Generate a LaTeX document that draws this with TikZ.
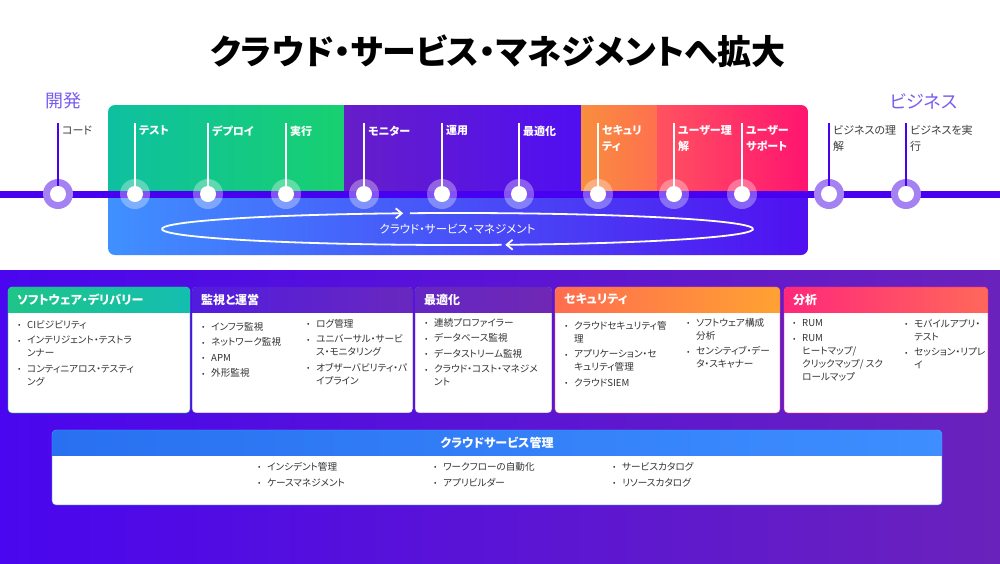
\documentclass[tikz,border=0pt]{standalone}
\usepackage{fontspec}
\usepackage{graphicx}
\setmainfont{Noto Sans CJK JP}[RawFeature=+palt]
\usetikzlibrary{arrows.meta,calc}
\definecolor{tl}{RGB}{72,0,240}
\definecolor{haloc}{RGB}{165,130,242}
\definecolor{lbltxt}{RGB}{60,60,60}
\definecolor{txt}{RGB}{50,50,50}
\definecolor{headc}{RGB}{122,92,240}
\definecolor{gL}{RGB}{14,192,160}
\definecolor{gR}{RGB}{24,208,112}
\definecolor{pL}{RGB}{102,30,200}
\definecolor{pR}{RGB}{80,14,242}
\definecolor{oL}{RGB}{248,142,60}
\definecolor{oR}{RGB}{255,112,80}
\definecolor{rL}{RGB}{255,82,96}
\definecolor{rR}{RGB}{255,20,112}
\definecolor{bL}{RGB}{64,144,255}
\definecolor{bM}{RGB}{72,110,255}
\definecolor{bR}{RGB}{80,16,240}
\definecolor{bgL}{RGB}{74,6,238}
\definecolor{bgR}{RGB}{106,34,188}
\definecolor{cAL}{RGB}{30,196,136}
\definecolor{cAR}{RGB}{20,190,176}
\definecolor{cBL}{RGB}{82,28,222}
\definecolor{cBR}{RGB}{104,40,190}
\definecolor{cCL}{RGB}{100,38,196}
\definecolor{cCR}{RGB}{112,40,180}
\definecolor{cDL}{RGB}{255,108,80}
\definecolor{cDR}{RGB}{255,162,50}
\definecolor{cEL}{RGB}{255,40,122}
\definecolor{cER}{RGB}{255,104,90}
\definecolor{cFL}{RGB}{40,112,240}
\definecolor{cFR}{RGB}{62,142,255}
\newcommand\bu{\makebox[9pt][l]{\raisebox{0.5pt}{\scalebox{0.75}{•}}}}
\newcommand\bc{\hspace*{9pt}}
\newcommand\mycard[6]{%
  \begin{scope}
    \clip[rounded corners=4pt] (#1,287) rectangle (#2,413);
    \fill[white] (#1,287) rectangle (#2,413);
    \shade[left color=#3,right color=#4] (#1,287) rectangle (#2,312);
  \end{scope}
  \draw[draw=#3,draw opacity=0.6,line width=0.6pt,rounded corners=4pt] (#1,287) rectangle (#2,413);
  \node[cardtitle] (#5) at (#1+9,299.5) {#6};}
\begin{document}
\begin{tikzpicture}[x=1pt,y=-1pt,
  dot/.style={circle,fill=white,inner sep=0pt,minimum size=16pt},
  haloout/.style={circle,fill=haloc,inner sep=0pt,minimum size=30pt},
  haloin/.style={circle,fill=white,fill opacity=0.32,inner sep=0pt,minimum size=30pt},
  lblin/.style={anchor=north west,inner sep=0pt,align=left,text=white,font=\bfseries\fontsize{11}{16}\selectfont},
  lblout/.style={anchor=north west,inner sep=0pt,align=left,text=lbltxt,font=\fontsize{11}{16}\selectfont},
  stemin/.style={white,line width=1.6pt},
  stemout/.style={tl,line width=1.6pt},
  loopline/.style={white,line width=1.8pt,-{Straight Barb[length=6pt,width=10pt]}},
  cardtitle/.style={anchor=west,inner sep=0pt,text=white,font=\bfseries\fontsize{12}{14}\selectfont},
  list/.style={anchor=north west,inner sep=0pt,align=left,text=txt,font=\fontsize{9.6}{13}\selectfont},
  phase/.style={anchor=west,inner sep=0pt,text=headc,font=\fontsize{18}{20}\selectfont}]
\useasboundingbox (0,0) rectangle (1000,563);
\fill[white] (0,0) rectangle (1000,563);
% title
\node[font=\bfseries\fontsize{34}{40}\selectfont] (title) at (498,51) {クラウド・サービス・マネジメントへ拡大};
\node[phase] (dev) at (45,101) {開発};
\node[phase] (biz) at (890,101) {ビジネス};
% lower background
\shade[left color=bgL,right color=bgR] (0,270) rectangle (1000,563);
% band
\begin{scope}
  \clip[rounded corners=7pt] (108,105) rectangle (808,255);
  \shade[left color=gL,right color=gR] (108,105) rectangle (344.5,194.5);
  \shade[left color=pL,right color=pR] (344,105) rectangle (581.5,194.5);
  \shade[left color=oL,right color=oR] (581,105) rectangle (657.5,194.5);
  \shade[left color=rL,right color=rR] (657,105) rectangle (808,194.5);
  \shade[left color=bL,middle color=bM,right color=bR] (108,194) rectangle (808,255);
\end{scope}
% loop
\coordinate (E) at (457.5,229);
\node[text=white,font=\fontsize{11.5}{13}\selectfont,inner sep=0pt] (looptext) at (E) {クラウド・サービス・マネジメント};
\draw[loopline] ([shift={(-81.4:295.5pt and 16pt)}]E) arc[start angle=-81.4,end angle=-259.4,x radius=295.5pt,y radius=16pt];
\draw[loopline] ([shift={(99.3:295.5pt and 16pt)}]E) arc[start angle=99.3,end angle=-80.7,x radius=295.5pt,y radius=16pt];
% timeline
\coordinate (L) at (0,194);
\coordinate (R) at (1000,194);
\draw[tl,line width=7pt] (L) -- (R);
\foreach \n/\x in {1/58,11/829,12/906}{
  \node[haloout] (h\n) at (\x,194) {};
  \coordinate (s\n) at (\x,123);
  \node[dot] (d\n) at (\x,194) {};
  \draw[stemout] (s\n) -- (d\n.north);
}
\foreach \n/\x in {2/135,3/208,4/286,5/364,6/442,7/519,8/598,9/674,10/742}{
  \node[haloin] (h\n) at (\x,194) {};
  \coordinate (s\n) at (\x,123);
  \node[dot] (d\n) at (\x,194) {};
  \draw[stemin] (s\n) -- (d\n.north);
}
\node[lblout] (t1) at (62,125.5) {コード};
\node[lblin] (t2) at (139,125.5) {テスト};
\node[lblin] (t3) at (212,125.5) {デプロイ};
\node[lblin] (t4) at (290,125.5) {実行};
\node[lblin] (t5) at (368,125.5) {モニター};
\node[lblin] (t6) at (446,125.5) {運用};
\node[lblin] (t7) at (523,125.5) {最適化};
\node[lblin] (t8) at (602,125.5) {セキュリ\\ティ};
\node[lblin] (t9) at (678,125.5) {ユーザー理\\解};
\node[lblin] (t10) at (746,125.5) {ユーザー\\サポート};
\node[lblout] (t11) at (833,125.5) {ビジネスの理\\解};
\node[lblout] (t12) at (910,125.5) {ビジネスを実\\行};
% cards
\mycard{8}{190}{cAL}{cAR}{c1}{ソフトウェア・デリバリー}
\mycard{192}{413}{cBL}{cBR}{c2}{監視と運営}
\mycard{415}{552}{cCL}{cCR}{c3}{最適化}
\mycard{555}{780}{cDL}{cDR}{c4}{セキュリティ}
\mycard{784}{988}{cEL}{cER}{c5}{分析}
\node[list] (l1) at (18,320) {\bu CIビジビリティ\\[2.5pt]\bu インテリジェント・テストラ\\\bc ンナー\\[2.5pt]\bu コンティニアロス・テスティ\\\bc ング};
\node[list] (l2a) at (202,322) {\bu インフラ監視\\[2.5pt]\bu ネットワーク監視\\[2.5pt]\bu APM\\[2.5pt]\bu 外形監視};
\node[list] (l2b) at (307,319) {\bu ログ管理\\[2.5pt]\bu ユニバーサル・サービ\\\bc ス・モニタリング\\[2.5pt]\bu オブザーバビリティ・パ\\\bc イプライン};
\node[list] (l3) at (425,318) {\bu 連続プロファイラー\\[2.5pt]\bu データベース監視\\[2.5pt]\bu データストリーム監視\\[2.5pt]\bu クラウド・コスト・マネジメ\\\bc ント};
\node[list] (l4a) at (565,321) {\bu クラウドセキュリティ管\\\bc 理\\[2.5pt]\bu アプリケーション・セ\\\bc キュリティ管理\\[2.5pt]\bu クラウドSIEM};
\node[list] (l4b) at (687,318) {\bu ソフトウェア構成\\\bc 分析\\[2.5pt]\bu センシティブ・デー\\\bc タ・スキャナー};
\node[list] (l5a) at (793,319) {\bu RUM\\[2.5pt]\bu RUM\\\bc ヒートマップ/\\\bc クリックマップ/ スク\\\bc ロールマップ};
\node[list] (l5b) at (905,319) {\bu モバイルアプリ・\\\bc テスト\\[2.5pt]\bu セッション・リプレ\\\bc イ};
% bottom card
\begin{scope}
  \clip[rounded corners=4pt] (52,430) rectangle (942,505);
  \fill[white] (52,430) rectangle (942,505);
  \shade[left color=cFL,right color=cFR] (52,430) rectangle (942,455);
\end{scope}
\draw[draw=cFR,draw opacity=0.6,line width=0.6pt,rounded corners=4pt] (52,430) rectangle (942,505);
\node[text=white,font=\bfseries\fontsize{12}{14}\selectfont,inner sep=0pt] (c6) at (497,443) {クラウドサービス管理};
\node[list] (l6a) at (258,462) {\bu インシデント管理\\[3pt]\bu ケースマネジメント};
\node[list] (l6b) at (434,462) {\bu ワークフローの自動化\\[3pt]\bu アプリビルダー};
\node[list] (l6c) at (613,462) {\bu サービスカタログ\\[3pt]\bu リソースカタログ};
\end{tikzpicture}
\end{document}
